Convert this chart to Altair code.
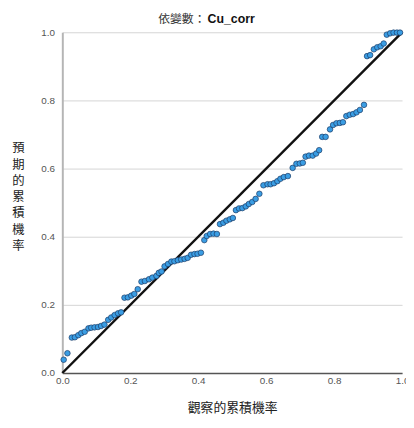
import altair as alt
import pandas as pd

observed = [0.004, 0.015, 0.028, 0.037, 0.047, 0.056, 0.066, 0.077, 0.085, 0.095,
            0.105, 0.114, 0.124, 0.135, 0.144, 0.154, 0.164, 0.173, 0.183, 0.193,
            0.203, 0.212, 0.222, 0.233, 0.243, 0.255, 0.265, 0.277, 0.284, 0.292,
            0.301, 0.311, 0.321, 0.330, 0.340, 0.350, 0.360, 0.369, 0.379, 0.389,
            0.398, 0.408, 0.418, 0.425, 0.435, 0.445, 0.455, 0.464, 0.474, 0.483,
            0.493, 0.502, 0.511, 0.520, 0.530, 0.540, 0.549, 0.559, 0.569, 0.580,
            0.592, 0.604, 0.613, 0.623, 0.633, 0.642, 0.652, 0.664, 0.678, 0.689,
            0.699, 0.708, 0.716, 0.726, 0.737, 0.747, 0.756, 0.765, 0.775, 0.788,
            0.797, 0.807, 0.817, 0.826, 0.836, 0.846, 0.856, 0.866, 0.876, 0.888,
            0.897, 0.906, 0.917, 0.927, 0.937, 0.946, 0.955, 0.965, 0.975, 0.985,
            0.994]
expected = [0.039, 0.058, 0.104, 0.105, 0.111, 0.117, 0.121, 0.131, 0.133, 0.134,
            0.135, 0.138, 0.142, 0.156, 0.163, 0.170, 0.175, 0.178, 0.221, 0.222,
            0.227, 0.232, 0.246, 0.268, 0.270, 0.275, 0.280, 0.285, 0.294, 0.298,
            0.313, 0.320, 0.327, 0.328, 0.331, 0.333, 0.335, 0.338, 0.347, 0.349,
            0.350, 0.353, 0.390, 0.402, 0.408, 0.409, 0.408, 0.437, 0.441, 0.447,
            0.451, 0.455, 0.478, 0.483, 0.484, 0.489, 0.496, 0.502, 0.511, 0.526,
            0.551, 0.554, 0.554, 0.557, 0.563, 0.570, 0.575, 0.578, 0.602, 0.614,
            0.615, 0.617, 0.635, 0.638, 0.638, 0.644, 0.654, 0.693, 0.693, 0.715,
            0.728, 0.733, 0.734, 0.736, 0.754, 0.758, 0.760, 0.765, 0.772, 0.787,
            0.930, 0.933, 0.950, 0.956, 0.959, 0.967, 0.993, 0.997, 0.999, 0.999,
            0.999]

diag_x = [0.0, 1.0]
diag_y = [0.0, 1.0]
ticks = [0.0, 0.2, 0.4, 0.6, 0.8, 1.0]

title_left = "依變數："
title_right = "Cu_corr"
x_title = "觀察的累積機率"
y_title = "預期的累積機率"

pts = pd.DataFrame({"obs": observed, "exp": expected})
diag = pd.DataFrame({"obs": diag_x, "exp": diag_y})

CJK = "Noto Sans CJK TC"
LAB = "Liberation Sans"

xscale = alt.Scale(domain=[0, 1], nice=False, zero=False)
yscale = alt.Scale(domain=[0, 1], nice=False, zero=False)

xaxis = alt.Axis(values=ticks, format=".1f", grid=False, ticks=False,
                 domainColor="#555555", domainWidth=1.5, labelColor="#555555",
                 labelFont=LAB, labelFontSize=10, labelPadding=3, labelFlush=False,
                 title=x_title, titleFont=CJK, titleFontSize=13, titleFontWeight="normal",
                 titleColor="#222222", titleY=35, titleBaseline="middle")
yaxis = alt.Axis(values=ticks, format=".1f", grid=True, gridColor="#d4d4d4", gridWidth=1,
                 ticks=False, domainColor="#b5b5b5", domainWidth=2,
                 labelColor="#555555", labelFont=LAB, labelFontSize=10, labelPadding=8,
                 labelFlush=False,
                 title=list(y_title), titleFont=CJK, titleFontSize=12.5,
                 titleFontWeight="normal", titleColor="#222222", titleAngle=0,
                 titleX=-45, titleY=111, titleAlign="center", titleBaseline="top",
                 titleLineHeight=16.5)

line = alt.Chart(diag).mark_line(color="#111111", strokeWidth=2.5).encode(
    x=alt.X("obs:Q", scale=xscale, axis=xaxis),
    y=alt.Y("exp:Q", scale=yscale, axis=yaxis),
)

points = alt.Chart(pts).mark_point(filled=True, shape="circle", size=32,
                                   fill="#3a9de3", stroke="#1a3a66",
                                   strokeWidth=0.7, opacity=1).encode(
    x=alt.X("obs:Q", scale=xscale),
    y=alt.Y("exp:Q", scale=yscale),
)

t1 = alt.Chart(pd.DataFrame({"t": [title_left]})).mark_text(
    font=CJK, fontSize=12, align="right", baseline="middle", color="#333333"
).encode(text="t:N", x=alt.value(145), y=alt.value(-13))
t2 = alt.Chart(pd.DataFrame({"t": [title_right]})).mark_text(
    font=LAB, fontSize=12.5, fontWeight="bold", align="left", baseline="middle",
    color="#111111"
).encode(text="t:N", x=alt.value(147), y=alt.value(-13))

chart = alt.layer(line, points, t1, t2).properties(
    width=344, height=345,
    autosize=alt.AutoSizeParams(type="none"),
    padding={"left": 55, "top": 22, "right": 4, "bottom": 45},
).configure_view(stroke=None)

chart.save("out.html", embed_options={"renderer": "svg", "actions": False})
